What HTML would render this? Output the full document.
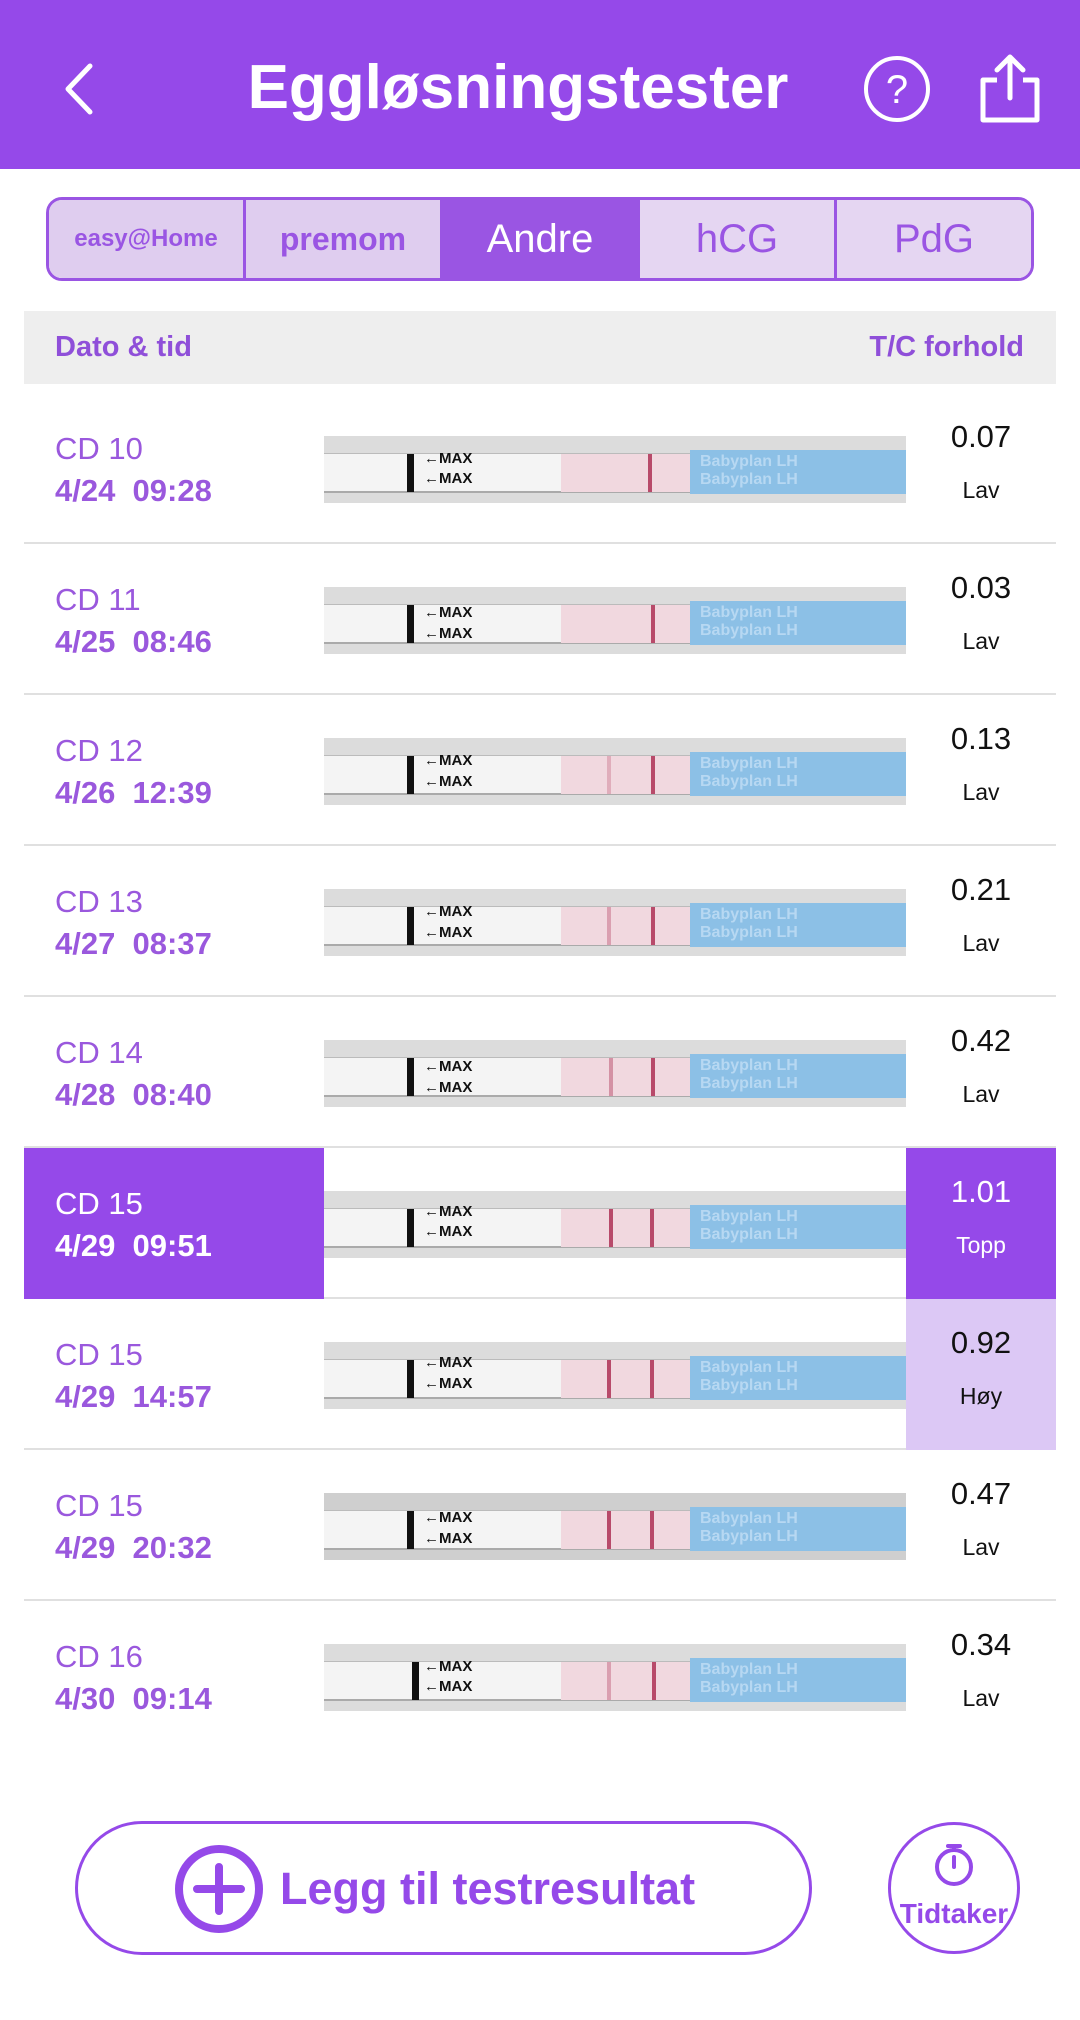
<!DOCTYPE html>
<html><head><meta charset="utf-8"><style>
*{margin:0;padding:0;box-sizing:border-box}
body{width:1080px;height:2020px;background:#fff;font-family:"Liberation Sans",sans-serif;position:relative;overflow:hidden}
.hdr{position:absolute;left:0;top:0;width:1080px;height:169px;background:#9549e9}
.title{position:absolute;left:-22px;width:1080px;top:52px;text-align:center;color:#fff;font-size:62px;font-weight:bold}
.tabs{position:absolute;left:46px;top:197px;width:988px;height:84px;border:3px solid #9a55e3;border-radius:16px;overflow:hidden;display:flex}
.tab{flex:1;border-right:3px solid #9a55e3;background:#e5d6f2;color:#9a55e3;font-size:40px;display:flex;align-items:center;justify-content:center}
.tab:last-child{border-right:none}
.th{position:absolute;left:24px;top:311px;width:1032px;height:73px;background:#eeeeee;color:#8f4fd9;font-weight:bold;font-size:29px}
.row{position:absolute;left:24px;width:1032px;height:151px;border-bottom:2px solid #e0e0e0}
.cd{position:absolute;left:31px;top:38px;font-size:31px;color:#9a58dd}
.dt{position:absolute;left:31px;top:80px;font-size:31px;font-weight:bold;color:#9a58dd}
.strip{position:absolute;left:300px;top:43px;width:582px;height:67px;background:#dcdcdc;overflow:hidden}
.w{position:absolute;left:0;top:17px;width:582px;height:40px;background:#f4f4f4;border-top:1px solid #bbb;border-bottom:2px solid #aaa}
.bar{position:absolute;left:83px;top:18px;width:7px;height:38px;background:#111}
.max{position:absolute;left:100px;font-size:15px;font-weight:bold;color:#111}
.pink{position:absolute;left:237px;top:18px;width:129px;height:38px;background:#f1d8df}
.ln{position:absolute;top:18px;width:4px;height:38px;background:#b84a6a}
.blue{position:absolute;left:366px;top:14px;width:216px;height:44px;background:#8cc0e6;color:#b7d8f2;font-size:16px;font-weight:bold;line-height:18px;padding:3px 10px}
.val{position:absolute;left:882px;width:150px;text-align:center;top:26px;font-size:31px;color:#111}
.lab{position:absolute;left:882px;width:150px;text-align:center;top:84px;font-size:23px;color:#111}
</style></head><body>
<div class="hdr">
<svg style="position:absolute;left:58px;top:62px" width="40" height="54"><polyline points="32,4 10,27 32,50" fill="none" stroke="#fff" stroke-width="5" stroke-linecap="round" stroke-linejoin="round"/></svg>
<div class="title">Eggløsningstester</div>
<svg style="position:absolute;left:862px;top:55px" width="70" height="70"><circle cx="35" cy="34" r="31" fill="none" stroke="#fff" stroke-width="4"/><text x="35" y="48" text-anchor="middle" font-size="40" fill="#fff" font-family="Liberation Sans">?</text></svg>
<svg style="position:absolute;left:975px;top:52px" width="70" height="72"><path d="M22 28 H8 V68 H62 V28 H48" fill="none" stroke="#fff" stroke-width="5" stroke-linejoin="round"/><path d="M35 46 V6 M22 18 L35 5 L48 18" fill="none" stroke="#fff" stroke-width="5" stroke-linecap="round" stroke-linejoin="round"/></svg>
</div>
<div class="tabs">
<div class="tab" style="background:#dfcdef;font-size:24px;font-weight:bold">easy@Home</div>
<div class="tab" style="background:#dfcdef;font-size:32px;font-weight:bold">premom</div>
<div class="tab" style="background:#9a55e3;color:#fff">Andre</div>
<div class="tab">hCG</div>
<div class="tab">PdG</div>
</div>
<div class="th"><span style="position:absolute;left:31px;top:20px">Dato &amp; tid</span><span style="position:absolute;right:32px;top:20px">T/C forhold</span></div>

<div class="row" style="top:393px"><div class="cd">CD 10</div><div class="dt">4/24&nbsp;&nbsp;09:28</div><div class="strip"><div class="w"></div><div class="bar"></div><div class="max" style="top:14px">←MAX</div><div class="max" style="top:34px">←MAX</div><div class="pink"></div><div class="ln" style="left:324px"></div><div class="blue">Babyplan LH<br>Babyplan LH</div></div><div class="val">0.07</div><div class="lab">Lav</div></div>
<div class="row" style="top:544px"><div class="cd">CD 11</div><div class="dt">4/25&nbsp;&nbsp;08:46</div><div class="strip"><div class="w"></div><div class="bar"></div><div class="max" style="top:17px">←MAX</div><div class="max" style="top:38px">←MAX</div><div class="pink"></div><div class="ln" style="left:327px"></div><div class="blue">Babyplan LH<br>Babyplan LH</div></div><div class="val">0.03</div><div class="lab">Lav</div></div>
<div class="row" style="top:695px"><div class="cd">CD 12</div><div class="dt">4/26&nbsp;&nbsp;12:39</div><div class="strip"><div class="w"></div><div class="bar"></div><div class="max" style="top:14px">←MAX</div><div class="max" style="top:35px">←MAX</div><div class="pink"></div><div class="ln" style="left:283px;opacity:.3"></div><div class="ln" style="left:327px"></div><div class="blue">Babyplan LH<br>Babyplan LH</div></div><div class="val">0.13</div><div class="lab">Lav</div></div>
<div class="row" style="top:846px"><div class="cd">CD 13</div><div class="dt">4/27&nbsp;&nbsp;08:37</div><div class="strip"><div class="w"></div><div class="bar"></div><div class="max" style="top:14px">←MAX</div><div class="max" style="top:35px">←MAX</div><div class="pink"></div><div class="ln" style="left:283px;opacity:.4"></div><div class="ln" style="left:327px"></div><div class="blue">Babyplan LH<br>Babyplan LH</div></div><div class="val">0.21</div><div class="lab">Lav</div></div>
<div class="row" style="top:997px"><div class="cd">CD 14</div><div class="dt">4/28&nbsp;&nbsp;08:40</div><div class="strip"><div class="w"></div><div class="bar"></div><div class="max" style="top:18px">←MAX</div><div class="max" style="top:39px">←MAX</div><div class="pink"></div><div class="ln" style="left:285px;opacity:.5"></div><div class="ln" style="left:327px"></div><div class="blue">Babyplan LH<br>Babyplan LH</div></div><div class="val">0.42</div><div class="lab">Lav</div></div>
<div class="row" style="top:1148px"><div style="position:absolute;left:0;top:0;width:300px;height:151px;background:#9549e9"></div><div style="position:absolute;left:882px;top:0;width:150px;height:151px;background:#9549e9"></div><div class="cd" style="color:#fff">CD 15</div><div class="dt" style="color:#fff">4/29&nbsp;&nbsp;09:51</div><div class="strip"><div class="w"></div><div class="bar"></div><div class="max" style="top:12px">←MAX</div><div class="max" style="top:32px">←MAX</div><div class="pink"></div><div class="ln" style="left:285px"></div><div class="ln" style="left:326px"></div><div class="blue">Babyplan LH<br>Babyplan LH</div></div><div class="val" style="color:#fff">1.01</div><div class="lab" style="color:#fff">Topp</div></div>
<div class="row" style="top:1299px"><div style="position:absolute;left:882px;top:0;width:150px;height:151px;background:#dcc8f5"></div><div class="cd">CD 15</div><div class="dt">4/29&nbsp;&nbsp;14:57</div><div class="strip"><div class="w"></div><div class="bar"></div><div class="max" style="top:12px">←MAX</div><div class="max" style="top:33px">←MAX</div><div class="pink"></div><div class="ln" style="left:283px"></div><div class="ln" style="left:326px"></div><div class="blue">Babyplan LH<br>Babyplan LH</div></div><div class="val">0.92</div><div class="lab">Høy</div></div>
<div class="row" style="top:1450px"><div class="cd">CD 15</div><div class="dt">4/29&nbsp;&nbsp;20:32</div><div class="strip" style="background:#cfcfcf"><div class="w"></div><div class="bar"></div><div class="max" style="top:16px">←MAX</div><div class="max" style="top:37px">←MAX</div><div class="pink"></div><div class="ln" style="left:283px"></div><div class="ln" style="left:326px"></div><div class="blue">Babyplan LH<br>Babyplan LH</div></div><div class="val">0.47</div><div class="lab">Lav</div></div>
<div class="row" style="top:1601px;border-bottom:none"><div class="cd">CD 16</div><div class="dt">4/30&nbsp;&nbsp;09:14</div><div class="strip"><div class="w"></div><div class="bar" style="left:88px"></div><div class="max" style="top:14px">←MAX</div><div class="max" style="top:34px">←MAX</div><div class="pink"></div><div class="ln" style="left:283px;opacity:.4"></div><div class="ln" style="left:328px"></div><div class="blue">Babyplan LH<br>Babyplan LH</div></div><div class="val">0.34</div><div class="lab">Lav</div></div>

<div style="position:absolute;left:75px;top:1821px;width:737px;height:134px;border:3px solid #9549e9;border-radius:67px"></div>
<svg style="position:absolute;left:173px;top:1843px" width="92" height="92"><circle cx="46" cy="46" r="40" fill="none" stroke="#9549e9" stroke-width="8"/><path d="M46 24 V68 M24 46 H68" stroke="#9549e9" stroke-width="8" stroke-linecap="round"/></svg>
<div style="position:absolute;left:280px;top:1863px;font-size:45px;font-weight:bold;color:#9549e9">Legg til testresultat</div>
<div style="position:absolute;left:888px;top:1822px;width:132px;height:132px;border:3px solid #9549e9;border-radius:50%"></div>
<svg style="position:absolute;left:933px;top:1842px" width="42" height="46"><circle cx="21" cy="25" r="17" fill="none" stroke="#9549e9" stroke-width="4"/><path d="M15 4 H27 M21 4 V8 M21 25 V15" stroke="#9549e9" stroke-width="4" stroke-linecap="round"/></svg>
<div style="position:absolute;left:888px;top:1898px;width:132px;text-align:center;font-size:28px;font-weight:bold;color:#9549e9">Tidtaker</div>
</body></html>
